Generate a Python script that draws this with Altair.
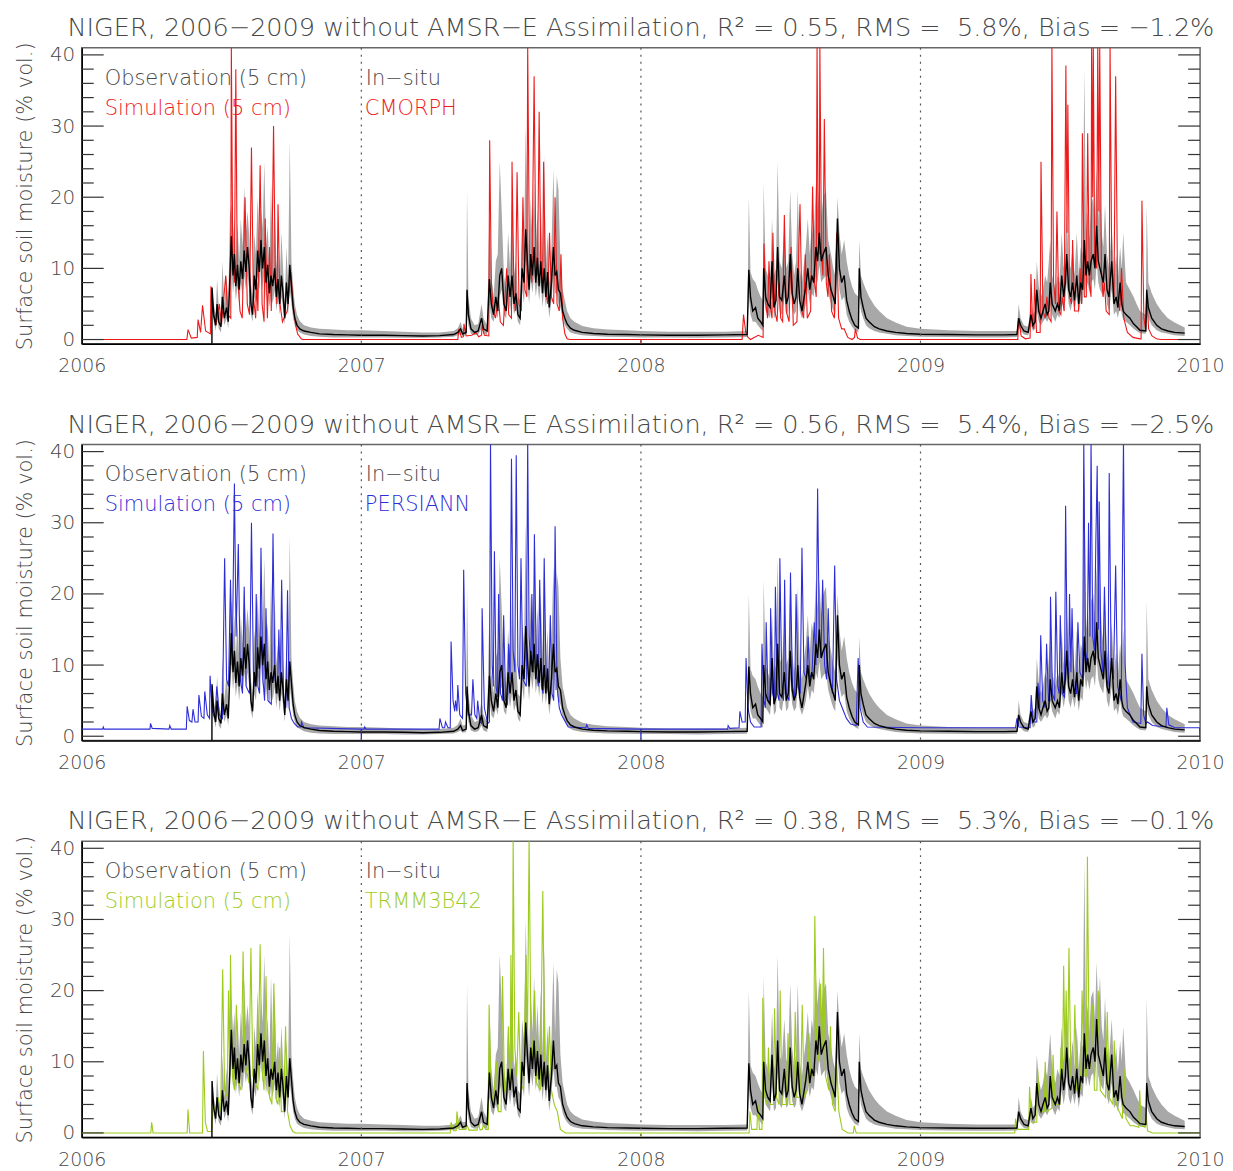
import altair as alt
import pandas as pd

# ---------------- data ----------------
YEAR_TICKS = [2006, 2007, 2008, 2009, 2010]
YEAR_LINES = [2007, 2008, 2009]
Y_MAJOR = [0, 10, 20, 30, 40]
Y_MINOR = [2, 4, 6, 8, 12, 14, 16, 18, 22, 24, 26, 28, 32, 34, 36, 38]

PRODUCTS = ["CMORPH", "PERSIANN", "TRMM3B42"]
R2 = [0.55, 0.56, 0.38]
RMS = [5.8, 5.4, 5.3]
BIAS = [-1.2, -2.5, -0.1]

# in-situ observation: (time, mean, station min, station max)
OBS = [
    (2006.4655, -0.6, -0.6, -0.6), (2006.466, 7.3, 6.0, 7.5), (2006.472, 3.5, 2.5, 5.0),
    (2006.479, 2.0, 1.2, 3.5), (2006.484, 5.0, 3.5, 8.5), (2006.490, 2.5, 1.5, 4.5),
    (2006.498, 1.8, 1.0, 3.0), (2006.503, 6.0, 4.5, 11.0), (2006.510, 3.0, 2.0, 5.0),
    (2006.518, 4.5, 3.0, 9.0), (2006.524, 2.5, 1.5, 5.0), (2006.530, 9.0, 6.5, 17.5),
    (2006.535, 14.5, 10.0, 19.0), (2006.541, 9.0, 6.5, 14.0), (2006.546, 12.0, 8.5, 17.0),
    (2006.551, 7.5, 5.5, 11.0), (2006.557, 10.5, 7.5, 16.5), (2006.563, 7.0, 5.0, 11.0),
    (2006.569, 11.0, 8.0, 17.0), (2006.575, 8.5, 6.0, 13.0), (2006.581, 12.5, 9.0, 21.5),
    (2006.587, 9.5, 7.0, 15.0), (2006.593, 13.0, 9.0, 18.0), (2006.599, 10.0, 7.0, 14.5),
    (2006.605, 5.0, 3.5, 8.0), (2006.611, 3.5, 2.5, 6.0), (2006.617, 9.0, 6.0, 15.0),
    (2006.623, 7.0, 5.0, 12.0), (2006.629, 12.5, 9.0, 20.0), (2006.635, 9.5, 7.0, 14.0),
    (2006.641, 14.0, 10.0, 19.0), (2006.647, 10.0, 7.0, 15.5), (2006.653, 13.0, 9.5, 25.0),
    (2006.659, 8.0, 5.5, 13.0), (2006.665, 10.5, 7.5, 16.0), (2006.671, 6.5, 4.5, 10.0),
    (2006.677, 9.0, 6.5, 22.0), (2006.683, 7.5, 5.0, 12.0), (2006.690, 10.0, 7.0, 20.0),
    (2006.696, 6.0, 4.0, 10.0), (2006.702, 8.5, 6.0, 13.0), (2006.708, 5.0, 3.5, 8.0),
    (2006.714, 9.0, 6.0, 15.0), (2006.720, 6.5, 4.5, 10.0), (2006.726, 3.0, 2.0, 5.0),
    (2006.732, 8.0, 5.5, 13.0), (2006.738, 5.0, 3.5, 8.0), (2006.744, 10.5, 7.0, 28.0),
    (2006.750, 7.5, 5.0, 11.0), (2006.756, 4.5, 3.0, 7.5), (2006.762, 3.0, 2.0, 5.0),
    (2006.770, 2.0, 1.3, 3.5), (2006.780, 1.5, 1.0, 2.6), (2006.795, 1.2, 0.7, 2.0),
    (2006.820, 1.0, 0.5, 1.7), (2006.850, 0.8, 0.4, 1.5), (2006.900, 0.7, 0.3, 1.4),
    (2006.950, 0.65, 0.3, 1.3), (2007.000, 0.6, 0.3, 1.3), (2007.080, 0.6, 0.3, 1.2),
    (2007.150, 0.55, 0.25, 1.1), (2007.220, 0.5, 0.25, 1.0), (2007.280, 0.55, 0.3, 1.0),
    (2007.330, 0.7, 0.4, 1.2),
    (2007.345, 1.0, 0.6, 1.6), (2007.355, 1.5, 0.8, 2.5), (2007.362, 0.8, 0.5, 1.5),
    (2007.375, 1.0, 0.6, 1.6), (2007.378, 7.0, 3.5, 21.0), (2007.383, 3.5, 2.0, 6.0),
    (2007.392, 1.5, 0.8, 3.0), (2007.405, 1.0, 0.6, 2.0), (2007.418, 1.2, 0.7, 2.2),
    (2007.430, 3.0, 1.5, 5.0), (2007.437, 1.5, 0.8, 3.0), (2007.450, 1.2, 0.6, 2.0),
    (2007.458, 8.5, 5.0, 18.0), (2007.465, 5.0, 3.0, 9.0), (2007.473, 3.5, 2.5, 6.0),
    (2007.481, 6.0, 4.0, 11.0), (2007.488, 4.0, 3.0, 12.0), (2007.495, 9.0, 6.0, 25.0),
    (2007.502, 10.0, 7.0, 18.0), (2007.510, 5.0, 3.5, 9.0), (2007.518, 4.0, 3.0, 7.0),
    (2007.525, 9.0, 6.0, 15.0), (2007.532, 6.0, 4.0, 10.0), (2007.539, 9.0, 6.0, 20.0),
    (2007.546, 5.0, 3.5, 9.0), (2007.553, 6.5, 4.5, 11.0), (2007.560, 3.5, 2.5, 6.0),
    (2007.568, 3.0, 2.0, 5.5), (2007.575, 10.0, 7.0, 16.0), (2007.582, 8.0, 5.0, 13.0),
    (2007.588, 15.5, 11.0, 30.0), (2007.594, 11.0, 8.0, 17.0), (2007.600, 7.0, 5.0, 11.0),
    (2007.606, 12.0, 8.5, 20.0), (2007.612, 9.0, 6.5, 14.0), (2007.618, 13.0, 9.0, 22.0),
    (2007.624, 8.0, 6.0, 13.0), (2007.630, 11.5, 8.0, 18.0), (2007.636, 7.5, 5.5, 12.0),
    (2007.642, 11.0, 8.0, 20.0), (2007.648, 6.5, 4.5, 11.0), (2007.654, 10.0, 7.0, 26.0),
    (2007.660, 6.0, 4.5, 10.0), (2007.666, 9.5, 6.5, 15.0), (2007.672, 4.5, 3.0, 8.0),
    (2007.680, 8.0, 5.5, 13.0), (2007.687, 13.0, 9.0, 24.0), (2007.693, 9.0, 6.5, 14.0),
    (2007.699, 9.5, 6.5, 23.0), (2007.705, 7.0, 5.0, 21.0), (2007.712, 6.5, 4.5, 11.0),
    (2007.720, 4.0, 2.8, 7.0), (2007.728, 3.0, 2.0, 5.5), (2007.736, 2.2, 1.5, 4.0),
    (2007.748, 1.6, 1.0, 3.0), (2007.762, 1.3, 0.8, 2.5), (2007.790, 1.0, 0.6, 1.9),
    (2007.830, 0.85, 0.5, 1.6), (2007.880, 0.75, 0.4, 1.4), (2007.950, 0.7, 0.35, 1.3),
    (2008.000, 0.65, 0.3, 1.2), (2008.100, 0.6, 0.3, 1.1), (2008.200, 0.6, 0.25, 1.1),
    (2008.300, 0.65, 0.3, 1.1), (2008.380, 0.7, 0.35, 1.2),
    (2008.386, 9.8, 6.0, 20.0), (2008.392, 6.0, 3.5, 9.5), (2008.400, 4.0, 2.5, 8.5),
    (2008.410, 4.5, 2.5, 8.0), (2008.418, 3.0, 2.0, 7.0), (2008.428, 2.5, 1.5, 6.0),
    (2008.436, 2.0, 1.2, 5.5), (2008.439, 10.0, 6.0, 22.0), (2008.446, 6.0, 4.0, 10.0),
    (2008.454, 5.0, 3.5, 9.0), (2008.462, 4.5, 3.0, 8.0), (2008.469, 11.0, 7.0, 17.0),
    (2008.476, 4.5, 3.0, 9.0), (2008.483, 5.5, 3.5, 10.0), (2008.489, 13.0, 8.5, 25.0),
    (2008.496, 6.0, 4.0, 11.0), (2008.504, 5.5, 3.5, 10.0), (2008.513, 9.0, 6.0, 16.0),
    (2008.520, 5.0, 3.5, 10.0), (2008.527, 6.0, 4.0, 11.0), (2008.534, 12.0, 8.0, 21.0),
    (2008.541, 6.5, 4.5, 12.0), (2008.548, 5.0, 3.5, 9.0), (2008.555, 6.0, 4.0, 11.0),
    (2008.561, 10.0, 7.0, 21.0), (2008.568, 5.5, 4.0, 10.0), (2008.576, 4.0, 3.0, 8.0),
    (2008.584, 6.0, 4.0, 11.0), (2008.590, 7.5, 5.0, 13.0), (2008.597, 10.0, 7.0, 17.0),
    (2008.604, 7.0, 5.0, 12.0), (2008.611, 9.0, 6.5, 16.0), (2008.618, 8.0, 6.0, 14.0),
    (2008.626, 13.0, 9.0, 22.0), (2008.632, 11.0, 8.0, 18.0), (2008.638, 15.0, 10.5, 22.0),
    (2008.645, 11.0, 8.0, 17.0), (2008.652, 12.0, 8.5, 20.0), (2008.662, 13.0, 9.0, 21.0),
    (2008.670, 9.0, 6.5, 14.0), (2008.680, 7.0, 5.0, 12.0), (2008.688, 6.0, 4.0, 10.0),
    (2008.695, 5.0, 3.5, 9.0), (2008.703, 17.0, 11.0, 20.0), (2008.710, 10.0, 7.0, 15.0),
    (2008.718, 8.0, 5.5, 12.0), (2008.727, 9.0, 6.0, 14.0), (2008.736, 5.5, 3.5, 11.0),
    (2008.745, 4.0, 2.5, 9.0), (2008.755, 2.8, 1.8, 7.5), (2008.765, 2.0, 1.3, 6.5),
    (2008.778, 1.6, 1.0, 6.0), (2008.781, 10.0, 6.0, 14.0), (2008.787, 6.0, 4.0, 9.0),
    (2008.795, 4.5, 3.0, 8.0), (2008.805, 3.0, 2.0, 7.0), (2008.816, 2.5, 1.6, 6.0),
    (2008.835, 1.8, 1.2, 4.8), (2008.852, 1.5, 1.0, 4.0), (2008.880, 1.2, 0.8, 3.0),
    (2008.911, 1.0, 0.6, 2.4), (2008.950, 0.85, 0.5, 1.8), (2009.000, 0.75, 0.4, 1.5),
    (2009.100, 0.7, 0.35, 1.3), (2009.200, 0.65, 0.3, 1.2), (2009.300, 0.65, 0.3, 1.2),
    (2009.345, 0.7, 0.35, 1.2),
    (2009.351, 3.0, 1.8, 5.0), (2009.358, 2.0, 1.2, 3.0), (2009.370, 1.2, 0.7, 2.0),
    (2009.385, 1.0, 0.6, 1.8), (2009.395, 3.5, 2.0, 5.0), (2009.402, 2.0, 1.2, 3.5),
    (2009.410, 2.5, 1.5, 4.0), (2009.416, 7.0, 4.0, 11.0), (2009.423, 4.0, 2.5, 7.5),
    (2009.431, 3.0, 2.0, 6.0), (2009.438, 4.0, 2.5, 7.0), (2009.446, 5.0, 3.0, 9.0),
    (2009.453, 3.5, 2.5, 8.0), (2009.459, 4.0, 3.0, 11.0), (2009.464, 8.0, 5.0, 14.0),
    (2009.471, 5.0, 3.5, 9.0), (2009.482, 4.0, 2.5, 7.0), (2009.490, 5.0, 3.5, 9.0),
    (2009.497, 4.0, 3.0, 8.0), (2009.505, 9.0, 6.0, 15.0), (2009.512, 6.0, 4.0, 10.0),
    (2009.518, 8.0, 5.5, 13.0), (2009.523, 12.0, 8.0, 18.0), (2009.530, 7.0, 5.0, 11.0),
    (2009.537, 6.0, 4.0, 10.0), (2009.544, 8.0, 5.5, 13.0), (2009.551, 5.5, 4.0, 9.0),
    (2009.559, 9.0, 6.0, 15.0), (2009.566, 5.0, 3.5, 9.0), (2009.573, 8.0, 5.5, 13.0),
    (2009.580, 7.0, 5.0, 12.0), (2009.586, 14.0, 9.0, 38.0), (2009.592, 9.0, 6.5, 15.0),
    (2009.598, 11.0, 8.0, 18.0), (2009.604, 9.0, 6.5, 14.0), (2009.610, 11.0, 8.0, 19.0),
    (2009.618, 12.0, 8.5, 20.0), (2009.624, 10.0, 7.0, 16.0), (2009.630, 16.0, 11.0, 24.0),
    (2009.636, 11.0, 8.0, 17.0), (2009.642, 10.0, 7.0, 22.0), (2009.648, 9.0, 6.5, 15.0),
    (2009.654, 8.0, 6.0, 13.0), (2009.660, 12.0, 8.5, 19.0), (2009.667, 7.0, 5.0, 12.0),
    (2009.674, 6.0, 4.0, 10.0), (2009.684, 11.0, 7.0, 16.0), (2009.692, 5.0, 3.5, 9.0),
    (2009.700, 6.0, 4.0, 12.0), (2009.706, 4.5, 3.0, 8.5), (2009.714, 8.0, 5.0, 13.0),
    (2009.720, 5.0, 3.5, 10.0), (2009.725, 4.0, 2.8, 15.0), (2009.735, 3.5, 2.5, 8.0),
    (2009.749, 3.0, 2.0, 7.0), (2009.762, 2.2, 1.5, 6.0), (2009.773, 1.8, 1.2, 5.0),
    (2009.785, 1.3, 0.9, 4.0), (2009.806, 1.2, 0.8, 3.5), (2009.809, 7.0, 4.0, 19.0),
    (2009.815, 4.5, 3.0, 8.0), (2009.827, 3.0, 2.0, 6.5), (2009.845, 2.0, 1.3, 5.0),
    (2009.862, 1.5, 1.0, 4.0), (2009.885, 1.2, 0.8, 3.0), (2009.909, 1.0, 0.6, 2.4),
    (2009.945, 0.9, 0.5, 1.7),
]

# simulation with CMORPH rainfall: (time, value)
CMORPH = [
    (2006.000, 0), (2006.376, 0), (2006.380, 1.4), (2006.392, 0.2), (2006.413, 0.3),
    (2006.416, 2.8), (2006.425, 1.0), (2006.432, 4.8), (2006.443, 1.2), (2006.460, 0.8),
    (2006.462, 7.5), (2006.470, 3.5), (2006.480, 2.0), (2006.492, 5.0), (2006.500, 2.2),
    (2006.515, 9.0), (2006.522, 3.5), (2006.533, 3.0), (2006.535, 41.5), (2006.540, 12.0),
    (2006.546, 8.0), (2006.551, 38.0), (2006.556, 10.0), (2006.566, 4.0), (2006.574, 3.0),
    (2006.584, 20.0), (2006.592, 5.0), (2006.600, 3.5), (2006.607, 27.0), (2006.614, 6.0),
    (2006.622, 3.0), (2006.626, 8.0), (2006.630, 4.0), (2006.638, 24.5), (2006.645, 5.0),
    (2006.652, 2.5), (2006.656, 17.0), (2006.664, 3.0), (2006.672, 13.0), (2006.678, 4.0),
    (2006.686, 30.0), (2006.692, 10.0), (2006.698, 5.0), (2006.702, 19.0), (2006.709, 5.0),
    (2006.718, 2.5), (2006.723, 3.0), (2006.735, 4.0), (2006.748, 9.5), (2006.756, 5.0),
    (2006.765, 2.0), (2006.772, 0.8), (2006.785, 0.1), (2006.790, 0),
    (2007.345, 0), (2007.349, 1.5), (2007.358, 0.3), (2007.365, 0.4), (2007.367, 2.2),
    (2007.375, 0.5), (2007.395, 0.6), (2007.410, 1.0), (2007.420, 0.4), (2007.430, 0.6),
    (2007.432, 2.0), (2007.440, 0.6), (2007.456, 0.5), (2007.459, 28.0), (2007.465, 8.0),
    (2007.472, 4.0), (2007.480, 3.0), (2007.490, 6.0), (2007.497, 2.5), (2007.508, 2.0),
    (2007.520, 10.0), (2007.527, 3.5), (2007.537, 3.0), (2007.539, 25.0), (2007.546, 6.0),
    (2007.551, 4.0), (2007.557, 23.5), (2007.564, 5.0), (2007.572, 4.0), (2007.578, 20.0),
    (2007.585, 7.0), (2007.592, 6.0), (2007.595, 41.5), (2007.601, 12.0), (2007.607, 9.0),
    (2007.610, 8.0), (2007.618, 37.0), (2007.624, 12.0), (2007.630, 9.0), (2007.636, 32.0),
    (2007.642, 10.0), (2007.648, 7.0), (2007.652, 25.0), (2007.659, 7.0), (2007.667, 5.0),
    (2007.673, 15.0), (2007.680, 6.0), (2007.688, 5.0), (2007.693, 20.0), (2007.700, 5.0),
    (2007.708, 4.0), (2007.714, 12.0), (2007.720, 3.0), (2007.728, 0.8), (2007.736, 0.1),
    (2007.745, 0), (2007.999, 0), (2008.000, -0.6), (2008.001, 0),
    (2008.362, 0), (2008.367, 3.5), (2008.375, 1.0), (2008.383, 0.3), (2008.392, 0),
    (2008.405, 0.3), (2008.420, 0.6), (2008.437, 0.3), (2008.440, 13.5), (2008.447, 5.0),
    (2008.453, 3.0), (2008.458, 11.0), (2008.465, 4.0), (2008.469, 3.0), (2008.472, 15.0),
    (2008.479, 4.0), (2008.487, 2.5), (2008.493, 8.0), (2008.500, 3.0), (2008.507, 2.5),
    (2008.513, 17.5), (2008.520, 4.0), (2008.530, 2.5), (2008.537, 13.0), (2008.545, 2.0),
    (2008.558, 2.5), (2008.569, 19.0), (2008.576, 4.0), (2008.582, 3.0), (2008.588, 12.0),
    (2008.595, 3.0), (2008.607, 4.0), (2008.614, 21.5), (2008.621, 8.0), (2008.627, 6.0),
    (2008.630, 41.5), (2008.634, 15.0), (2008.638, 12.0), (2008.640, 41.5), (2008.646, 12.0),
    (2008.651, 9.0), (2008.656, 31.0), (2008.663, 8.0), (2008.669, 6.0), (2008.674, 12.0),
    (2008.682, 4.0), (2008.692, 3.0), (2008.700, 15.0), (2008.707, 3.0), (2008.718, 1.5),
    (2008.727, 1.5), (2008.740, 0.3), (2008.755, 0), (2008.764, 0.3), (2008.767, 1.5),
    (2008.775, 0.2), (2008.785, 0),
    (2009.348, 0), (2009.351, 3.0), (2009.360, 0.5), (2009.375, 0.1), (2009.392, 0.2),
    (2009.395, 9.2), (2009.401, 2.0), (2009.405, 1.5), (2009.408, 8.5), (2009.415, 1.0),
    (2009.428, 1.0), (2009.431, 25.0), (2009.438, 4.0), (2009.446, 3.0), (2009.452, 6.0),
    (2009.460, 3.0), (2009.467, 2.5), (2009.470, 41.5), (2009.476, 8.0), (2009.483, 5.0),
    (2009.488, 18.0), (2009.495, 4.0), (2009.502, 3.5), (2009.506, 6.0), (2009.514, 4.0),
    (2009.520, 38.5), (2009.524, 15.0), (2009.527, 33.0), (2009.533, 6.0), (2009.540, 5.0),
    (2009.544, 14.0), (2009.551, 4.0), (2009.565, 4.0), (2009.571, 10.0), (2009.576, 5.0),
    (2009.579, 29.0), (2009.586, 6.0), (2009.593, 6.0), (2009.598, 29.0), (2009.604, 8.0),
    (2009.610, 6.0), (2009.612, 41.5), (2009.616, 20.0), (2009.618, 41.5), (2009.623, 12.0),
    (2009.630, 10.0), (2009.634, 41.5), (2009.638, 18.0), (2009.641, 41.5), (2009.647, 10.0),
    (2009.653, 6.0), (2009.658, 8.0), (2009.664, 4.0), (2009.675, 3.5), (2009.678, 41.5),
    (2009.684, 10.0), (2009.692, 6.0), (2009.698, 37.0), (2009.705, 6.0), (2009.713, 4.0),
    (2009.719, 10.0), (2009.727, 3.0), (2009.740, 1.0), (2009.760, 0.3), (2009.785, 0.1),
    (2009.789, 0.1), (2009.792, 19.5), (2009.799, 3.0), (2009.805, 1.5), (2009.809, 6.0),
    (2009.816, 1.5), (2009.828, 0.5), (2009.844, 0.1), (2009.860, 0), (2010.000, 0),
]

# simulation with PERSIANN rainfall
PERSIANN = [
    (2006.000, 1.0), (2006.075, 1.0), (2006.077, 1.3), (2006.080, 1.0), (2006.244, 1.0),
    (2006.246, 1.8), (2006.252, 1.1), (2006.312, 1.0), (2006.315, 1.5), (2006.320, 1.0),
    (2006.374, 1.0), (2006.377, 4.2), (2006.385, 2.2), (2006.394, 2.0), (2006.398, 3.8),
    (2006.405, 2.0), (2006.416, 2.0), (2006.419, 5.8), (2006.428, 2.8), (2006.437, 2.5),
    (2006.440, 6.3), (2006.449, 3.0), (2006.457, 2.5), (2006.459, 8.5), (2006.467, 3.5),
    (2006.476, 2.5), (2006.483, 7.0), (2006.492, 3.0), (2006.503, 2.5), (2006.511, 25.0),
    (2006.518, 8.0), (2006.525, 7.0), (2006.532, 22.0), (2006.538, 10.0), (2006.546, 35.5),
    (2006.552, 14.0), (2006.560, 27.0), (2006.567, 8.0), (2006.575, 6.0), (2006.581, 21.0),
    (2006.588, 7.0), (2006.600, 6.0), (2006.607, 30.0), (2006.614, 9.0), (2006.620, 7.0),
    (2006.624, 20.0), (2006.630, 7.0), (2006.636, 6.0), (2006.641, 26.5), (2006.648, 8.0),
    (2006.654, 5.0), (2006.659, 18.0), (2006.666, 5.0), (2006.678, 4.5), (2006.684, 28.5),
    (2006.691, 8.0), (2006.700, 6.0), (2006.705, 15.0), (2006.710, 7.0), (2006.715, 22.0),
    (2006.722, 5.0), (2006.730, 4.0), (2006.736, 20.5), (2006.742, 4.0), (2006.750, 2.5),
    (2006.760, 1.8), (2006.772, 1.3), (2006.784, 1.3), (2006.786, 2.0), (2006.795, 1.2),
    (2006.999, 1.0), (2007.000, -0.6), (2007.001, 1.0), (2007.010, 1.0), (2007.012, 1.3),
    (2007.016, 1.0), (2007.278, 1.0), (2007.281, 2.5), (2007.290, 1.2), (2007.298, 1.2),
    (2007.301, 2.0), (2007.310, 1.2), (2007.318, 1.2), (2007.321, 13.3), (2007.328, 5.0),
    (2007.334, 3.5), (2007.337, 5.0), (2007.342, 3.5), (2007.345, 7.2), (2007.352, 3.0),
    (2007.362, 2.5), (2007.366, 23.4), (2007.373, 6.0), (2007.382, 3.0), (2007.394, 3.0),
    (2007.399, 8.0), (2007.406, 3.0), (2007.413, 2.5), (2007.416, 5.0), (2007.424, 2.0),
    (2007.430, 1.8), (2007.432, 18.0), (2007.440, 4.0), (2007.452, 1.8), (2007.458, 2.0),
    (2007.462, 41.5), (2007.468, 10.0), (2007.472, 7.0), (2007.476, 26.0), (2007.482, 7.0),
    (2007.487, 5.5), (2007.491, 20.0), (2007.498, 6.0), (2007.505, 5.0), (2007.509, 17.0),
    (2007.516, 5.0), (2007.523, 4.5), (2007.527, 13.0), (2007.532, 8.0), (2007.537, 39.0),
    (2007.543, 12.0), (2007.549, 9.0), (2007.554, 39.5), (2007.560, 10.0), (2007.566, 8.0),
    (2007.571, 25.0), (2007.578, 8.0), (2007.590, 7.0), (2007.595, 41.5), (2007.600, 14.0),
    (2007.606, 10.0), (2007.610, 20.0), (2007.615, 9.0), (2007.619, 28.4), (2007.626, 9.0),
    (2007.633, 7.0), (2007.638, 22.0), (2007.645, 7.0), (2007.650, 6.0), (2007.654, 25.0),
    (2007.661, 8.0), (2007.670, 6.0), (2007.676, 17.0), (2007.682, 6.0), (2007.688, 5.0),
    (2007.693, 29.5), (2007.700, 7.0), (2007.708, 4.0), (2007.716, 3.0), (2007.723, 2.5),
    (2007.740, 1.3), (2007.803, 1.2), (2007.806, 1.6), (2007.812, 1.1), (2007.999, 1.0),
    (2008.000, -0.6), (2008.001, 1.0), (2008.310, 1.0), (2008.312, 1.5), (2008.318, 1.1),
    (2008.351, 1.2), (2008.354, 3.5), (2008.362, 2.0), (2008.373, 2.0), (2008.376, 11.0),
    (2008.383, 4.0), (2008.392, 2.0), (2008.405, 1.3), (2008.430, 1.3), (2008.433, 13.0),
    (2008.440, 5.0), (2008.445, 4.0), (2008.448, 16.0), (2008.455, 5.0), (2008.461, 4.5),
    (2008.464, 18.0), (2008.471, 6.0), (2008.478, 5.0), (2008.481, 21.0), (2008.488, 6.0),
    (2008.494, 5.0), (2008.497, 25.0), (2008.504, 7.0), (2008.510, 5.0), (2008.514, 22.0),
    (2008.520, 6.0), (2008.530, 5.0), (2008.535, 23.0), (2008.542, 7.0), (2008.550, 5.5),
    (2008.555, 20.0), (2008.562, 7.0), (2008.570, 6.0), (2008.576, 26.5), (2008.583, 9.0),
    (2008.592, 8.0), (2008.598, 14.0), (2008.604, 8.0), (2008.612, 9.0), (2008.620, 16.0),
    (2008.626, 10.0), (2008.632, 34.8), (2008.638, 14.0), (2008.644, 11.0), (2008.650, 22.0),
    (2008.657, 10.0), (2008.664, 8.0), (2008.670, 18.0), (2008.677, 8.0), (2008.685, 6.0),
    (2008.693, 24.0), (2008.700, 8.0), (2008.710, 5.0), (2008.720, 4.0), (2008.735, 2.5),
    (2008.750, 1.7), (2008.770, 1.5), (2008.777, 11.0), (2008.784, 4.0), (2008.795, 2.0),
    (2008.810, 1.3), (2009.000, 1.2), (2009.340, 1.2), (2009.345, 2.5), (2009.352, 1.3),
    (2009.392, 1.2), (2009.396, 5.8), (2009.403, 2.0), (2009.416, 2.0), (2009.420, 7.5),
    (2009.426, 4.0), (2009.430, 14.2), (2009.437, 5.0), (2009.446, 4.0), (2009.451, 13.0),
    (2009.458, 5.0), (2009.462, 5.0), (2009.465, 19.6), (2009.472, 6.0), (2009.480, 5.0),
    (2009.484, 20.3), (2009.491, 7.0), (2009.496, 6.0), (2009.500, 17.0), (2009.507, 6.0),
    (2009.515, 5.5), (2009.519, 32.4), (2009.525, 10.0), (2009.530, 8.0), (2009.533, 20.0),
    (2009.538, 9.0), (2009.542, 18.0), (2009.549, 6.0), (2009.558, 6.0), (2009.563, 16.0),
    (2009.570, 9.0), (2009.580, 8.0), (2009.584, 41.5), (2009.590, 12.0), (2009.596, 10.0),
    (2009.601, 30.0), (2009.606, 14.0), (2009.610, 41.5), (2009.616, 14.0), (2009.622, 12.0),
    (2009.627, 27.0), (2009.632, 38.0), (2009.636, 15.0), (2009.639, 33.0), (2009.645, 12.0),
    (2009.652, 9.0), (2009.658, 21.0), (2009.665, 8.0), (2009.671, 7.0), (2009.675, 37.0),
    (2009.682, 10.0), (2009.690, 8.0), (2009.698, 24.0), (2009.705, 7.0), (2009.718, 5.0),
    (2009.726, 41.5), (2009.732, 10.0), (2009.740, 4.0), (2009.760, 2.0), (2009.788, 1.8),
    (2009.792, 11.6), (2009.798, 3.0), (2009.806, 1.8), (2009.812, 2.0), (2009.830, 1.5),
    (2009.878, 1.3), (2009.881, 4.0), (2009.888, 1.6), (2009.910, 1.2), (2009.998, 1.2),
    (2010.000, -0.6),
]

# simulation with TRMM3B42 rainfall
TRMM = [
    (2006.000, 0), (2006.247, 0), (2006.250, 1.5), (2006.255, 0), (2006.377, 0),
    (2006.380, 3.3), (2006.386, 0), (2006.432, 0), (2006.435, 11.5), (2006.442, 1.5),
    (2006.450, 0.2), (2006.465, 0.2), (2006.470, 4.0), (2006.478, 3.0), (2006.488, 5.0),
    (2006.497, 3.0), (2006.504, 23.0), (2006.511, 6.0), (2006.520, 5.0), (2006.525, 20.0),
    (2006.529, 8.0), (2006.532, 25.0), (2006.539, 8.0), (2006.546, 6.0), (2006.553, 18.0),
    (2006.560, 7.0), (2006.570, 6.0), (2006.577, 25.5), (2006.584, 10.0), (2006.598, 7.0),
    (2006.605, 26.0), (2006.612, 8.0), (2006.630, 6.0), (2006.638, 26.5), (2006.645, 9.0),
    (2006.652, 6.0), (2006.659, 22.0), (2006.666, 6.0), (2006.680, 4.0), (2006.687, 21.0),
    (2006.694, 5.0), (2006.702, 4.0), (2006.708, 12.0), (2006.714, 3.0), (2006.722, 3.0),
    (2006.729, 15.0), (2006.736, 3.0), (2006.745, 1.0), (2006.755, 0.2), (2006.765, 0),
    (2007.318, 0), (2007.321, 1.5), (2007.330, 0.3), (2007.339, 0.3), (2007.342, 3.0),
    (2007.350, 0.5), (2007.374, 0.5), (2007.377, 1.2), (2007.385, 0.4), (2007.414, 0.4),
    (2007.417, 1.5), (2007.425, 0.4), (2007.433, 0.5), (2007.436, 1.2), (2007.445, 0.5),
    (2007.454, 0.5), (2007.457, 18.0), (2007.464, 6.0), (2007.472, 4.0), (2007.483, 10.0),
    (2007.490, 3.0), (2007.500, 3.0), (2007.505, 22.0), (2007.512, 6.0), (2007.520, 5.0),
    (2007.526, 15.0), (2007.532, 6.0), (2007.535, 25.0), (2007.540, 10.0), (2007.543, 41.5),
    (2007.549, 12.0), (2007.556, 8.0), (2007.563, 17.0), (2007.570, 7.0), (2007.580, 6.0),
    (2007.589, 25.0), (2007.594, 12.0), (2007.600, 41.5), (2007.606, 16.0), (2007.613, 10.0),
    (2007.620, 20.0), (2007.627, 7.0), (2007.640, 6.0), (2007.649, 34.0), (2007.656, 10.0),
    (2007.665, 7.0), (2007.673, 15.0), (2007.680, 6.0), (2007.690, 4.0), (2007.701, 3.0),
    (2007.712, 0.5), (2007.730, 0), (2007.999, 0), (2008.000, -0.6), (2008.001, 0),
    (2008.387, 0), (2008.390, 3.0), (2008.396, 0.5), (2008.415, 0.5), (2008.418, 4.0),
    (2008.424, 0.5), (2008.433, 0.5), (2008.436, 19.0), (2008.443, 5.0), (2008.452, 4.0),
    (2008.456, 12.0), (2008.463, 4.0), (2008.474, 4.0), (2008.478, 17.5), (2008.485, 5.0),
    (2008.494, 4.0), (2008.498, 20.0), (2008.505, 4.0), (2008.520, 4.0), (2008.526, 14.0),
    (2008.533, 4.0), (2008.546, 4.0), (2008.552, 17.0), (2008.558, 5.0), (2008.571, 5.0),
    (2008.577, 18.0), (2008.584, 5.0), (2008.596, 6.0), (2008.601, 14.0), (2008.607, 8.0),
    (2008.617, 8.0), (2008.622, 30.5), (2008.629, 12.0), (2008.637, 10.0), (2008.643, 21.0),
    (2008.648, 12.0), (2008.653, 26.0), (2008.660, 8.0), (2008.672, 6.0), (2008.678, 15.0),
    (2008.685, 4.0), (2008.695, 3.0), (2008.700, 10.0), (2008.708, 3.0), (2008.720, 0.5),
    (2008.740, 0), (2008.760, 0), (2008.763, 1.0), (2008.770, 0),
    (2009.337, 0), (2009.340, 2.0), (2009.348, 0.5), (2009.362, 0.5), (2009.387, 0.5),
    (2009.390, 6.5), (2009.397, 1.5), (2009.416, 1.5), (2009.419, 9.0), (2009.426, 3.0),
    (2009.443, 3.0), (2009.446, 10.0), (2009.453, 3.0), (2009.470, 3.5), (2009.474, 11.0),
    (2009.481, 4.0), (2009.498, 4.0), (2009.503, 12.0), (2009.508, 8.0), (2009.512, 23.5),
    (2009.517, 10.0), (2009.521, 20.0), (2009.526, 8.0), (2009.531, 26.0), (2009.538, 8.0),
    (2009.547, 7.0), (2009.552, 18.0), (2009.559, 6.0), (2009.573, 6.0), (2009.578, 20.0),
    (2009.585, 8.0), (2009.593, 8.0), (2009.597, 38.8), (2009.603, 12.0), (2009.610, 9.0),
    (2009.615, 18.0), (2009.622, 6.0), (2009.631, 6.0), (2009.636, 20.0), (2009.643, 6.0),
    (2009.662, 5.0), (2009.668, 17.0), (2009.675, 5.0), (2009.688, 4.0), (2009.693, 13.0),
    (2009.700, 4.0), (2009.722, 2.0), (2009.728, 9.0), (2009.735, 2.0), (2009.750, 1.0),
    (2009.763, 1.0), (2009.781, 0.8), (2009.784, 6.0), (2009.790, 1.0), (2009.803, 0.8),
    (2009.806, 3.0), (2009.812, 0.3), (2009.830, 0), (2010.000, 0),
]

SIMULATIONS = [CMORPH, PERSIANN, TRMM]

# ---------------- style ----------------
COLORS = ["#ee1a1a", "#2e2ed6", "#9ccb1c"]
FONT = "DejaVu Sans"
TXT = "#474747"
W, H = 1122, 297

xs = alt.Scale(domain=[2006, 2010], nice=False, zero=False)
ys = alt.Scale(domain=[-0.6, 41], nice=False, zero=False)

x_axis = alt.Axis(values=YEAR_TICKS, format="d", title=None, grid=False, tickSize=0,
                  labelPadding=13, labelFlush=False, labelOverlap=False, labelFontSize=19)
y_axis = alt.Axis(values=Y_MAJOR, title="Surface soil moisture (% vol.)", grid=False,
                  tickSize=0, labelPadding=7, labelFontSize=20, titleFontSize=21,
                  titlePadding=14, titleFontWeight=300)

obs_df = pd.DataFrame(OBS, columns=["t", "mean", "lo", "hi"])
maj_df = pd.DataFrame({"v": Y_MAJOR})
min_df = pd.DataFrame({"v": Y_MINOR})
yl_df = pd.DataFrame({"t": YEAR_LINES})


def X(field):
    return alt.X(field, scale=xs, axis=x_axis)


def Y(field):
    return alt.Y(field, scale=ys, axis=y_axis)


def label(txt, x, y, color, size=21, align="left", baseline="middle"):
    return alt.Chart(pd.DataFrame({"s": [txt]})).mark_text(
        align=align, baseline=baseline, font=FONT, fontSize=size, color=color, fontWeight=300
    ).encode(x=alt.value(x), y=alt.value(y), text="s:N")


def fmt_bias(b):
    return ("\u2212" if b < 0 else "") + f"{abs(b):.1f}"


panels = []
for i, sim in enumerate(SIMULATIONS):
    sim_df = pd.DataFrame(sim, columns=["t", "v"])
    col = COLORS[i]
    band = alt.Chart(obs_df).mark_area(color="#a8a8a8", clip=True).encode(
        x=X("t:Q"), y=Y("lo:Q"), y2="hi:Q")
    simline = alt.Chart(sim_df).mark_line(color=col, strokeWidth=1.1, clip=True).encode(
        x=X("t:Q"), y=Y("v:Q"))
    black = alt.Chart(obs_df).mark_line(color="#000000", strokeWidth=1.4, clip=True).encode(
        x=X("t:Q"), y=Y("mean:Q"))
    ylines = alt.Chart(yl_df).mark_rule(color="#555555", strokeDash=[2, 5], strokeWidth=1.2).encode(
        x=X("t:Q"), y=alt.value(0), y2=alt.value(H))
    tmaj_l = alt.Chart(maj_df).mark_rule(color="#333333", strokeWidth=1.2).encode(
        y=Y("v:Q"), x=alt.value(0), x2=alt.value(22))
    tmaj_r = alt.Chart(maj_df).mark_rule(color="#333333", strokeWidth=1.2).encode(
        y=Y("v:Q"), x=alt.value(W - 22), x2=alt.value(W))
    tmin_l = alt.Chart(min_df).mark_rule(color="#333333", strokeWidth=1.2).encode(
        y=Y("v:Q"), x=alt.value(0), x2=alt.value(12))
    tmin_r = alt.Chart(min_df).mark_rule(color="#333333", strokeWidth=1.2).encode(
        y=Y("v:Q"), x=alt.value(W - 12), x2=alt.value(W))
    title = (f"NIGER, 2006\u22122009 without AMSR\u2212E Assimilation, R\u00b2 = {R2[i]:.2f}, "
             f"RMS =\u00a0 {RMS[i]:.1f}%, Bias = {fmt_bias(BIAS[i])}%")
    texts = [
        label("Observation (5 cm)", 23, 31, TXT),
        label("Simulation (5 cm)", 23, 61, col),
        label("In\u2212situ", 285, 31, TXT),
        label(PRODUCTS[i], 284, 61, col),
        label(title, W / 2, -12, TXT, size=25.6, align="center", baseline="alphabetic"),
    ]
    p = alt.layer(band, simline, black, ylines, tmaj_l, tmaj_r, tmin_l, tmin_r, *texts).properties(
        width=W, height=H,
    )
    panels.append(p)

chart = alt.vconcat(*panels, spacing=35).properties(
    padding={"left": 5, "top": 5, "right": 0, "bottom": 0}
).configure_view(stroke="#666666", strokeWidth=1.5).configure_axis(
    domainColor="#000000", domainWidth=1.5, labelFont=FONT, titleFont=FONT,
    labelColor=TXT, titleColor=TXT, labelFontWeight=300,
)

chart.save("out.html", embed_options={"renderer": "svg", "actions": False})
